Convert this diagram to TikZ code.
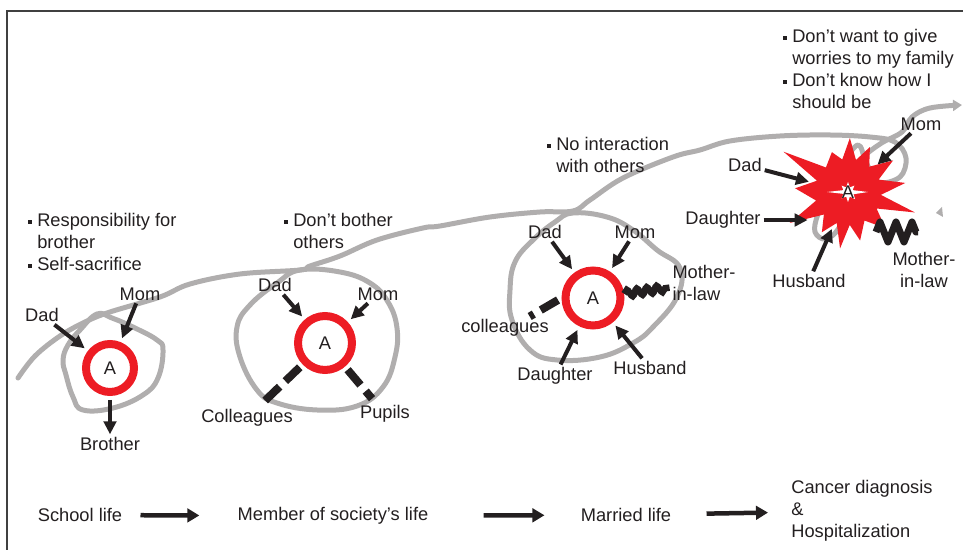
\documentclass[tikz,border=0pt]{standalone}
\usepackage{fontspec}
\setmainfont{Liberation Sans}
\usetikzlibrary{arrows.meta}
\usetikzlibrary{decorations.pathmorphing}
\definecolor{ringred}{RGB}{237,28,36}
\definecolor{pathgray}{RGB}{176,174,174}
\definecolor{ink}{RGB}{35,31,32}
\tikzstyle{life}=[draw=pathgray,line width=0.1cm,line cap=round,line join=round]
\tikzstyle{ring}=[circle,draw=ringred,line width=0.16cm,inner sep=0pt,text=ink]
\tikzstyle{who}=[inner sep=1.5pt,text=ink]
\tikzstyle{tie}=[-{Triangle[length=0.26cm,width=0.25cm]},line width=0.08cm,draw=ink]
\tikzstyle{broken}=[draw=ink,line width=0.16cm,dash pattern=on 0.4cm off 0.16cm,shorten <=0.08cm]
\tikzstyle{strain}=[draw=ink,line width=0.13cm,decorate,decoration={snake,amplitude=0.07cm,segment length=0.2cm}]
\tikzstyle{clash}=[draw=ink,line width=0.14cm,line join=round,decorate,decoration={zigzag,amplitude=0.2cm,segment length=0.32cm}]
\tikzstyle{note}=[anchor=north west,inner sep=0pt,text=ink]
\tikzstyle{stage}=[inner sep=0pt,text=ink]
\tikzstyle{next}=[-{Triangle[length=0.24cm,width=0.27cm]},line width=0.09cm,draw=ink]
\newcommand{\sq}{\rule[0.15em]{0.2em}{0.2em}}
\newcommand{\notes}[1]{\begin{tabular}{@{}l@{\hspace{3pt}}l@{}}#1\end{tabular}}

\begin{document}
\begin{tikzpicture}[x=0.02cm,y=-0.02cm,font=\fontsize{10.4}{12.5}\selectfont]
\useasboundingbox (0,0) rectangle (965,550);
\draw[black!75,line width=0.03cm] (7,550) -- (7,11) -- (963,11);

% life line
\draw[life,-{Triangle[length=0.18cm,width=0.22cm]}] plot[smooth,tension=0.6] coordinates {(18,378) (35,356) (60,336) (85,322) (110,312) (160,297) (190,284) (240,274) (300,270) (310,266) (340,256) (377,240) (423,228) (440,226) (490,217) (540,212) (573,211) (590,200) (623,178) (673,157) (700,150) (730,141) (780,136) (830,135) (870,137) (895,142) (906,158) (900,177) (878,182) (866,162) (858,145) (842,165) (830,190) (818,214) (815,232) (826,239) (840,226) (852,190) (862,160) (880,144) (902,132) (912,117) (930,108) (962,105)};
\fill[pathgray] (936,213) -- (942,207) -- (943,217) -- cycle;

% circles of relations
\draw[life] plot[smooth cycle,tension=0.7] coordinates {(80,330) (97,314) (112,318) (135,328) (157,340) (163,350) (158,378) (143,395) (113,408) (83,410) (73,397) (66,375) (63,360) (68,345)};
\draw[life] plot[smooth cycle,tension=0.7] coordinates {(300,270) (340,272) (370,283) (388,302) (397,328) (395,357) (383,387) (357,406) (317,410) (277,403) (257,390) (240,357) (237,327) (250,305) (277,283)};
\draw[life] plot[smooth cycle,tension=0.7] coordinates {(573,213) (607,217) (633,230) (657,250) (680,268) (677,297) (653,327) (633,343) (600,357) (557,360) (530,350) (512,320) (510,290) (515,262) (533,240) (555,222)};

% notes
\node[note] (n1) at (28,211) {\notes{\sq & Responsibility for\\ & brother\\ \sq & Self-sacrifice}};
\node[note] (n2) at (284,211) {\notes{\sq & Don’t bother\\ & others}};
\node[note] (n3) at (547,135) {\notes{\sq & No interaction\\ & with others}};
\node[note] (n4) at (783,27) {\notes{\sq & Don’t want to give\\ & worries to my family\\ \sq & Don’t know how I\\ & should be}};

% school life
\node[ring,minimum size=0.96cm] (a1) at (110,368) {A};
\node[who] (d1) at (42,315) {Dad};
\node[who] (m1) at (140,294) {Mom};
\node[who] (b1) at (110,444) {Brother};
\draw[tie,shorten >=0.08cm] (d1) -- (a1);
\draw[tie,shorten >=0.08cm] (m1) -- (a1);
\draw[tie,shorten <=0.08cm] (a1) -- (b1);

% member of society
\node[ring,minimum size=1.08cm] (a2) at (325,343) {A};
\node[who] (d2) at (275,285) {Dad};
\node[who] (m2) at (378,294) {Mom};
\node[who] (c2) at (247,418) {Colleagues};
\node[who] (p2) at (385,414) {Pupils};
\draw[tie,shorten >=0.08cm] (d2) -- (a2);
\draw[tie,shorten >=0.08cm] (m2) -- (a2);
\draw[broken,shorten >=0.16cm] (a2) -- (c2);
\draw[broken,shorten >=0.1cm] (a2) -- (p2);

% married
\node[ring,minimum size=1.1cm] (a3) at (593,298) {A};
\node[who] (d3) at (545,232) {Dad};
\node[who] (m3) at (635,232) {Mom};
\node[who] (c3) at (505,328) {colleagues};
\node[who] (dt3) at (555,376) {Daughter};
\node[who] (h3) at (650,368) {Husband};
\node[who,align=left] (ml3) at (704,283) {Mother-\\in-law};
\draw[tie,shorten >=0.08cm] (d3) -- (a3);
\draw[tie,shorten >=0.08cm] (m3) -- (a3);
\draw[tie,shorten >=0.08cm] (dt3) -- (a3);
\draw[tie,shorten >=0.08cm] (h3) -- (a3);
\draw[broken] (a3.west) -- (c3.25);
\draw[strain] (a3) -- (ml3);

% hospital
\begin{scope}[shift={(848,192)}]
  \fill[ringred] (17:70) \foreach \a/\r in {30/33,44/52,60/33,76/50,87/33,98/57,110/33,123/48,137/33,152/66,165/33,184/53,200/33,212/76,228/33,248/43,260/33,272/54,284/33,296/50,310/33,325/55,338/33,351/58,5/33} { -- (\a:\r) } -- cycle;
  \fill[white] (0:20) \foreach \a/\r in {22/6,45/10,68/5,90/10,112/5,135/9,158/5,180/21,202/5,225/9,248/5,270/10,292/5,315/9,338/5} { -- (\a:\r) } -- cycle;
\end{scope}
\node[circle,minimum size=1.6cm,inner sep=0pt,text=ink] (a4) at (848,192) {A};
\node[who] (d4) at (745,165) {Dad};
\node[who] (m4) at (921,124) {Mom};
\node[who] (dt4) at (723,220) {Daughter};
\node[who] (h4) at (809,281) {Husband};
\node[who,align=center] (ml4) at (924,270) {Mother-\\in-law};
\draw[tie] (d4) -- (a4);
\draw[tie] (m4) -- (a4);
\draw[tie] (dt4) -- (dt4 -| a4.west);
\draw[tie] (h4) -- (a4);
\coordinate (z1) at (876,232);
\coordinate (z2) at (918,232);
\draw[clash] (z1) -- (z2);

% stages
\node[stage] (s1) at (80,515) {School life};
\node[stage] (s2) at (333,516) {Member of society’s life};
\node[stage] (s3) at (626,515) {Married life};
\node[stage,anchor=west,align=left] (s4) at (791,511) {Cancer diagnosis\\\&\\Hospitalization};
\draw[next,shorten <=0.36cm,shorten >=0.76cm] (s1) -- (s2);
\draw[next,shorten <=1.1cm,shorten >=0.72cm] (s2) -- (s3);
\draw[next,shorten <=0.7cm,shorten >=0.46cm] (s3) -- (s4);
\end{tikzpicture}
\end{document}
